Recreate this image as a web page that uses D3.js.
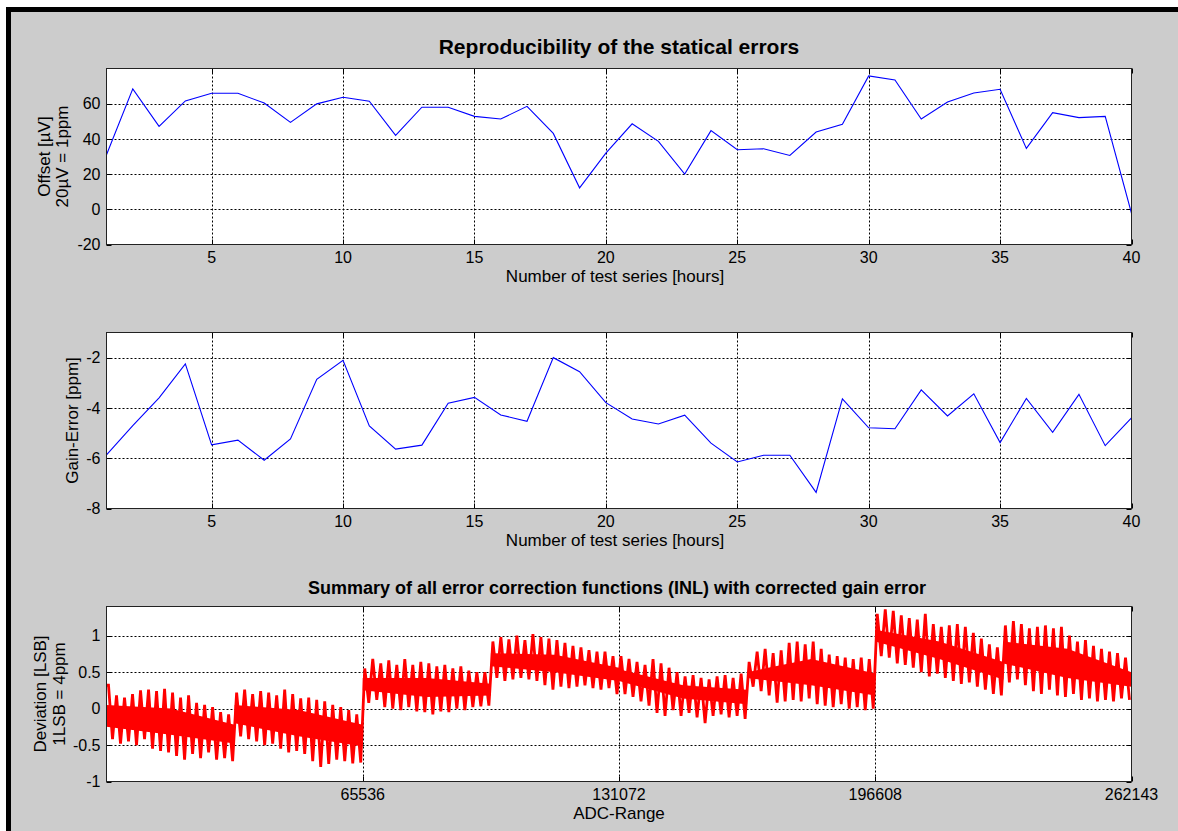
<!DOCTYPE html>
<html><head><meta charset="utf-8">
<script src="https://cdn.jsdelivr.net/npm/d3@7"></script>
<style>
body{margin:0;background:#fff}
svg{display:block}
text{font-family:"Liberation Sans",Arial,Helvetica,sans-serif;fill:#000}
</style>
</head><body>
<svg id="chart" width="1178" height="831"></svg>
<script>
// ---------- data ----------
const testSeries = [1,2,3,4,5,6,7,8,9,10,11,12,13,14,15,16,17,18,19,20,21,22,23,24,25,26,27,28,29,30,31,32,33,34,35,36,37,38,39,40];
const offsetValues = [31.0,68.4,47.1,61.6,65.9,65.9,60.4,49.4,59.9,63.7,61.4,42.0,58.0,58.0,52.8,51.3,58.5,43.1,12.2,31.9,
  48.6,38.6,20.0,44.7,33.8,34.4,30.6,43.9,48.3,75.8,73.5,51.3,61.0,66.1,68.2,34.6,54.9,52.1,52.8,-2.3];
const gainErrorValues = [-5.87,-4.7,-3.6,-2.25,-5.47,-5.28,-6.08,-5.23,-2.86,-2.11,-4.72,-5.64,-5.48,-3.81,-3.58,-4.28,-4.53,-2.0,-2.56,-3.79,
  -4.44,-4.64,-4.29,-5.40,-6.15,-5.88,-5.88,-7.36,-3.64,-4.79,-4.83,-3.28,-4.32,-3.44,-5.38,-3.62,-4.97,-3.46,-5.50,-4.40];
const hourTicks = [5,10,15,20,25,30,35,40];
const offsetTicks = [-20,0,20,40,60];
const gainTicks = [-8,-6,-4,-2];
const adcTicks = [65536,131072,196608,262143];
const inlTicks = [-1,-0.5,0,0.5,1];
// INL band: per oscillation (2048 codes) the upper peak and lower trough
const inlPeaks = [
  0.32,0.18,0.15,0.20,0.25,0.26,0.24,0.27,0.22,0.15,0.18,0.08,0.05,0.02,-0.05,-0.08,
  0.22,0.26,0.20,0.24,0.22,0.18,0.26,0.20,0.14,0.15,0.12,0.10,0.05,0.02,-0.02,-0.08,
  0.55,0.68,0.62,0.66,0.60,0.68,0.60,0.64,0.62,0.58,0.60,0.55,0.58,0.52,0.50,0.50,
  0.92,0.98,0.95,1.00,0.94,1.02,0.98,0.96,0.94,0.90,0.86,0.84,0.80,0.78,0.78,0.72,
  0.72,0.68,0.64,0.60,0.68,0.62,0.56,0.50,0.44,0.46,0.42,0.40,0.44,0.46,0.42,0.48,
  0.64,0.78,0.82,0.76,0.80,0.90,0.92,0.88,0.92,0.82,0.74,0.72,0.70,0.68,0.70,0.68,
  1.30,1.36,1.34,1.28,1.24,1.22,1.30,1.16,1.12,1.14,1.16,1.12,1.04,0.96,0.88,0.84,
  1.14,1.20,1.16,1.10,1.12,1.14,1.10,1.12,1.00,0.92,0.94,0.86,0.82,0.78,0.76,0.70];
const inlTroughs = [
  -0.42,-0.48,-0.45,-0.50,-0.42,-0.55,-0.58,-0.60,-0.65,-0.70,-0.62,-0.68,-0.60,-0.70,-0.68,-0.72,
  -0.38,-0.42,-0.45,-0.50,-0.48,-0.55,-0.60,-0.58,-0.62,-0.72,-0.80,-0.76,-0.70,-0.72,-0.75,-0.74,
  0.08,0.12,0.02,0.00,-0.02,0.02,-0.04,-0.05,-0.08,-0.04,-0.05,0.00,-0.02,0.02,0.03,0.04,
  0.42,0.38,0.40,0.42,0.40,0.38,0.32,0.26,0.30,0.28,0.30,0.32,0.28,0.26,0.28,0.20,
  0.20,0.16,0.10,0.04,-0.06,-0.10,-0.02,-0.10,-0.06,-0.12,-0.20,-0.10,-0.08,-0.12,-0.10,-0.14,
  0.30,0.24,0.18,0.08,0.10,0.12,0.10,0.14,0.06,0.04,0.02,0.06,0.00,0.02,-0.02,0.00,
  0.72,0.70,0.62,0.60,0.56,0.50,0.44,0.48,0.42,0.38,0.34,0.36,0.30,0.26,0.20,0.18,
  0.36,0.40,0.32,0.24,0.20,0.26,0.18,0.16,0.20,0.12,0.14,0.10,0.12,0.10,0.14,0.12];
// solid core of the overlapping curves: start / middle / end of each 32768-code block
const inlCoreHi = [
  0.05,0.00,-0.22,  0.05,-0.02,-0.22,  0.42,0.42,0.34,  0.76,0.74,0.56,
  0.54,0.32,0.26,   0.50,0.68,0.48,    1.08,0.92,0.64,  0.92,0.82,0.50];
const inlCoreLo = [
  -0.25,-0.36,-0.48, -0.20,-0.38,-0.52, 0.25,0.16,0.18, 0.58,0.50,0.38,
  0.38,0.14,0.06,    0.42,0.32,0.18,    0.92,0.68,0.40, 0.62,0.42,0.30];
const codesPerOscillation = 2048;
const codesPerBlock = 32768;

// ---------- layout ----------
const svg = d3.select("#chart");
svg.append("rect").attr("x",0).attr("y",0).attr("width",1178).attr("height",831).attr("fill","#fff");
svg.append("rect").attr("x",6).attr("y",7).attr("width",1172).attr("height",824).attr("fill","#000");
svg.append("rect").attr("x",11).attr("y",12).attr("width",1167).attr("height",819).attr("fill","#cccccc");

const L = 106.5, R = 1131.5;
const panels = [
  {top:68.5, bottom:244.5},
  {top:332.5, bottom:508.5},
  {top:606.5, bottom:781.5}
];
const TICKFONT = 16, LABELFONT = 17;

function drawFrame(p, x, y, xTicks, yTicks) {
  const g = svg.append("g");
  g.append("rect").attr("x",L).attr("y",p.top).attr("width",R-L).attr("height",p.bottom-p.top)
    .attr("fill","#fff");
  const grid = g.append("g").attr("stroke","#000").attr("stroke-width",1).attr("stroke-dasharray","2,2");
  xTicks.forEach(t => {
    const xx = Math.round(x(t)) + 0.5;
    if (xx > L+1 && xx < R-1)
      grid.append("line").attr("x1",xx).attr("x2",xx).attr("y1",p.top).attr("y2",p.bottom);
  });
  yTicks.forEach(t => {
    const yy = Math.round(y(t)) + 0.5;
    if (yy > p.top+1 && yy < p.bottom-1)
      grid.append("line").attr("x1",L).attr("x2",R).attr("y1",yy).attr("y2",yy);
  });
  const tk = g.append("g").attr("stroke","#000").attr("stroke-width",1);
  const tl = 5;
  xTicks.forEach(t => {
    const xx = Math.round(x(t)) + 0.5;
    tk.append("line").attr("x1",xx).attr("x2",xx).attr("y1",p.bottom).attr("y2",p.bottom-tl);
    tk.append("line").attr("x1",xx).attr("x2",xx).attr("y1",p.top).attr("y2",p.top+tl);
    g.append("text").attr("x",x(t)).attr("y",p.bottom+18).attr("text-anchor","middle")
      .attr("font-size",TICKFONT).text(t);
  });
  yTicks.forEach(t => {
    const yy = Math.round(y(t)) + 0.5;
    tk.append("line").attr("x1",L).attr("x2",L+tl).attr("y1",yy).attr("y2",yy);
    tk.append("line").attr("x1",R).attr("x2",R-tl).attr("y1",yy).attr("y2",yy);
    g.append("text").attr("x",L-6).attr("y",y(t)).attr("dy","0.36em").attr("text-anchor","end")
      .attr("font-size",TICKFONT).text(t);
  });
  return g;
}
function drawBox(p) {
  svg.append("rect").attr("x",L).attr("y",p.top).attr("width",R-L).attr("height",p.bottom-p.top)
    .attr("fill","none").attr("stroke","#222").attr("stroke-width",1);
}
function clipFor(id, p) {
  svg.append("clipPath").attr("id",id).append("rect")
    .attr("x",L).attr("y",p.top).attr("width",R-L).attr("height",p.bottom-p.top);
}
function yLabel(xc, p, txt) {
  svg.append("text").attr("transform",`translate(${xc},${(p.top+p.bottom)/2}) rotate(-90)`)
    .attr("text-anchor","middle").attr("font-size",LABELFONT).attr("dy","0.35em").text(txt);
}

// ---------- panel 1: offset ----------
{
  const p = panels[0];
  const x = d3.scaleLinear().domain([1,40]).range([L,R]);
  const y = d3.scaleLinear().domain([-20,80]).range([p.bottom,p.top]);
  drawFrame(p, x, y, hourTicks, offsetTicks);
  clipFor("c1", p);
  svg.append("path").datum(offsetValues.map((v,i)=>[testSeries[i],v]))
    .attr("clip-path","url(#c1)")
    .attr("d", d3.line().x(d=>x(d[0])).y(d=>y(d[1])))
    .attr("fill","none").attr("stroke","#0000ff").attr("stroke-width",1.1);
  drawBox(p);
  svg.append("text").attr("x",619).attr("y",54).attr("text-anchor","middle")
    .attr("font-size",21).attr("font-weight","bold").text("Reproducibility of the statical errors");
  svg.append("text").attr("x",615).attr("y",282).attr("text-anchor","middle")
    .attr("font-size",LABELFONT).text("Number of test series [hours]");
  yLabel(44, p, "Offset [\u00b5V]");
  yLabel(62, p, "20\u00b5V = 1ppm");
}

// ---------- panel 2: gain error ----------
{
  const p = panels[1];
  const x = d3.scaleLinear().domain([1,40]).range([L,R]);
  const y = d3.scaleLinear().domain([-8,-1]).range([p.bottom,p.top]);
  drawFrame(p, x, y, hourTicks, gainTicks);
  clipFor("c2", p);
  svg.append("path").datum(gainErrorValues.map((v,i)=>[testSeries[i],v]))
    .attr("clip-path","url(#c2)")
    .attr("d", d3.line().x(d=>x(d[0])).y(d=>y(d[1])))
    .attr("fill","none").attr("stroke","#0000ff").attr("stroke-width",1.1);
  drawBox(p);
  svg.append("text").attr("x",615).attr("y",546).attr("text-anchor","middle")
    .attr("font-size",LABELFONT).text("Number of test series [hours]");
  yLabel(72, p, "Gain-Error [ppm]");
}

// ---------- panel 3: INL ----------
{
  const p = panels[2];
  const x = d3.scaleLinear().domain([0,262143]).range([L,R]);
  const y = d3.scaleLinear().domain([-1,1.4]).range([p.bottom,p.top]);
  drawFrame(p, x, y, adcTicks, inlTicks);
  clipFor("c3", p);
  const plot = svg.append("g").attr("clip-path","url(#c3)");
  // core band, one polygon per 32768-code block
  const nBlocks = inlCoreHi.length / 3;
  const area = d3.area().x(d=>x(d[0])).y0(d=>y(d[2])).y1(d=>y(d[1]));
  for (let b = 0; b < nBlocks; b++) {
    const x0 = b*codesPerBlock, xm = x0 + codesPerBlock/2, x1 = x0 + codesPerBlock - 1;
    const blk = [[x0, inlCoreHi[b*3], inlCoreLo[b*3]],
                 [xm, inlCoreHi[b*3+1], inlCoreLo[b*3+1]],
                 [x1, inlCoreHi[b*3+2], inlCoreLo[b*3+2]]];
    plot.append("path").datum(blk).attr("d", area).attr("fill","#ff0000");
  }
  const pts = [[0, inlPeaks[0]]];
  inlPeaks.forEach((v,i) => {
    pts.push([i*codesPerOscillation + codesPerOscillation*0.25, v]);
    pts.push([i*codesPerOscillation + codesPerOscillation*0.75, inlTroughs[i]]);
  });
  const line = d3.line().x(d=>x(d[0])).y(d=>y(d[1]));
  plot.append("path").datum(pts)
    .attr("d", line).attr("fill","none").attr("stroke","#ff0000").attr("stroke-width",2.8)
    .attr("stroke-linejoin","miter");
  drawBox(p);
  svg.append("text").attr("x",617).attr("y",594).attr("text-anchor","middle")
    .attr("font-size",18).attr("font-weight","bold")
    .text("Summary of all error correction functions (INL) with corrected gain error");
  svg.append("text").attr("x",619).attr("y",819).attr("text-anchor","middle")
    .attr("font-size",LABELFONT).text("ADC-Range");
  yLabel(40, p, "Deviation [LSB]");
  yLabel(59, p, "1LSB = 4ppm");
}
</script>
</body></html>
